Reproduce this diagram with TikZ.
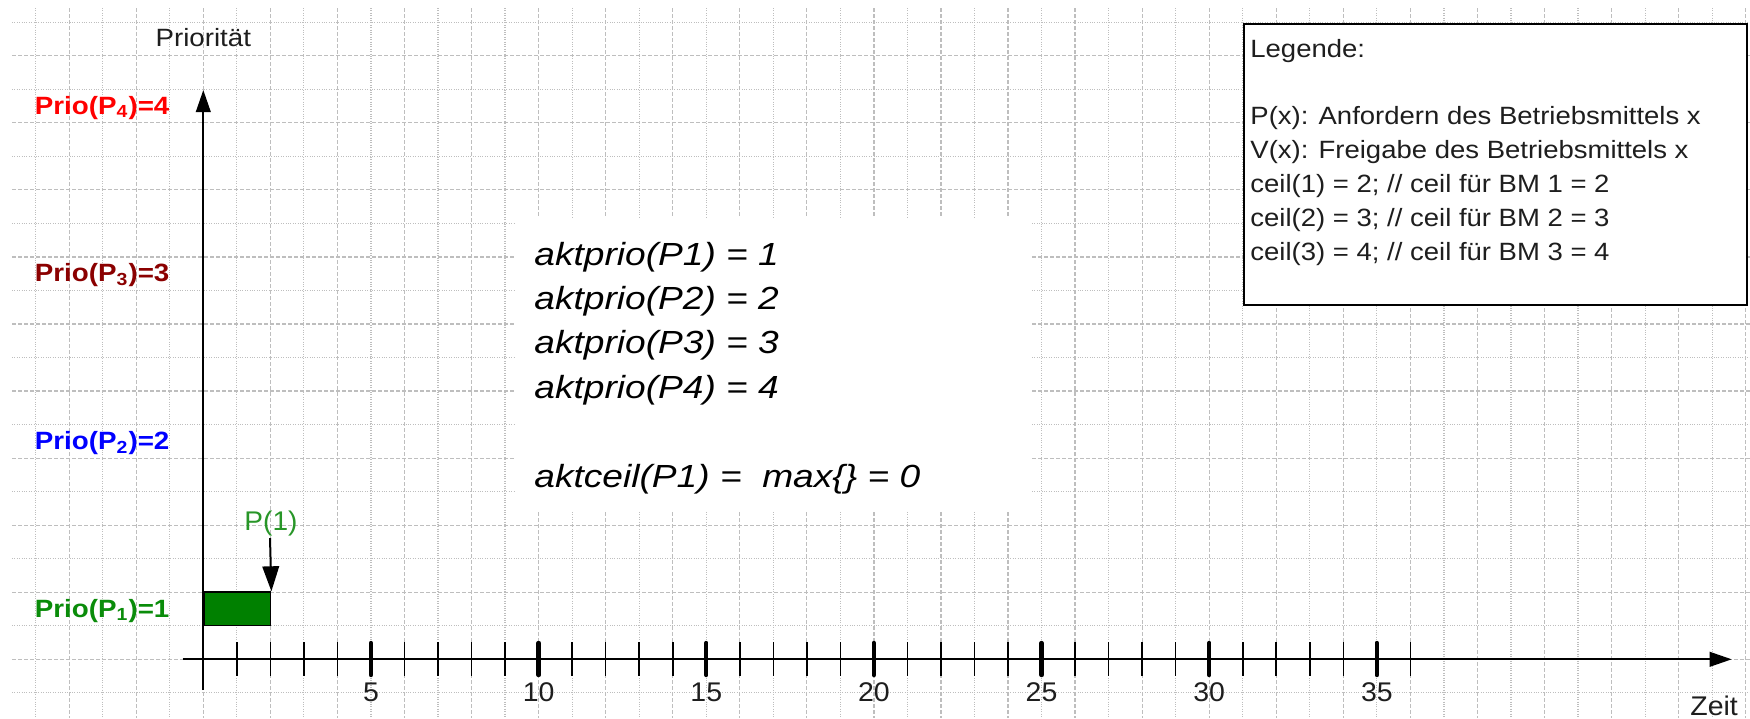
\documentclass[tikz,border=0pt]{standalone}
\usepackage{fontspec}
\setmainfont{Liberation Sans}
\usepackage{graphicx}
\usetikzlibrary{arrows.meta}
\definecolor{gridc}{RGB}{190,190,190}
\definecolor{pfour}{RGB}{255,0,0}
\definecolor{pthree}{RGB}{139,0,0}
\definecolor{ptwo}{RGB}{0,0,255}
\definecolor{pone}{RGB}{0,128,0}
\definecolor{ponetext}{RGB}{10,140,10}
\definecolor{ptxt}{RGB}{40,150,40}
\definecolor{txtc}{RGB}{30,30,30}
\newcommand{\hsc}[2]{\scalebox{#1}[1]{#2}}
\begin{document}
\begin{tikzpicture}[x=0.5pt,y=-0.5pt,
  gdash/.style={draw=gridc, line width=0.6pt, dash pattern=on 2pt off 1pt},
  gdot/.style={draw=gridc, line width=0.6pt, dash pattern=on 0.5pt off 0.7pt},
  axisline/.style={draw=black, line width=1pt, -{Triangle[length=11pt,width=7.3pt]}},
  minortick/.style={draw=black, line width=0.8pt},
  majortick/.style={draw=black, line width=2.2pt, line cap=round},
  ticklbl/.style={inner sep=0pt, anchor=base, text=txtc, font=\fontsize{13.5pt}{16pt}\selectfont},
  priolbl/.style={inner sep=0pt, anchor=base west, font=\bfseries\fontsize{12.5pt}{15pt}\selectfont},
  legtxt/.style={inner sep=0pt, anchor=base west, text=txtc, font=\fontsize{12.5pt}{15pt}\selectfont},
  bigtxt/.style={inner sep=0pt, anchor=base west, text=black, font=\itshape\fontsize{16pt}{19pt}\selectfont},
]
\useasboundingbox (0,0) rectangle (1750,718);
\fill[white] (0,0) rectangle (1750,718);
% grid
\foreach \k in {0,2,...,18} \draw[gdash] (12,{659.3-33.53*\k}) -- (1750,{659.3-33.53*\k});
\foreach \k in {-1,1,...,19} \draw[gdot] (12,{659.3-33.53*\k}) -- (1750,{659.3-33.53*\k});
\foreach \t in {-4,-2,...,46} \draw[gdash] ({203.3+33.53*\t},8) -- ({203.3+33.53*\t},718);
\foreach \t in {-5,-3,...,45} \draw[gdot] ({203.3+33.53*\t},8) -- ({203.3+33.53*\t},718);
% white text area
\fill[white] (515,218) rectangle (1032,512);
% legend box
\node[draw=black, line width=1pt, fill=white, inner sep=0pt, minimum width=251.5pt, minimum height=140.6pt, anchor=north west] (legend) at (1242.7,22.8) {};
\node[legtxt] (leg0) at (1250,57.3) {\hsc{1.10}{Legende:}};
\node[legtxt] (leg1) at (1250,124.7) {\hsc{1.10}{P(x): Anfordern des Betriebsmittels x}};
\node[legtxt] (leg2) at (1250,158.6) {\hsc{1.10}{V(x): Freigabe des Betriebsmittels x}};
\node[legtxt] (leg3) at (1250,192.5) {\hsc{1.10}{ceil(1) = 2; // ceil für BM 1 = 2}};
\node[legtxt] (leg4) at (1250,226.4) {\hsc{1.10}{ceil(2) = 3; // ceil für BM 2 = 3}};
\node[legtxt] (leg5) at (1250,260.3) {\hsc{1.10}{ceil(3) = 4; // ceil für BM 3 = 4}};
% big italic text
\node[bigtxt] (a1) at (534,265) {\hsc{1.16}{aktprio(P1) = 1}};
\node[bigtxt] (a2) at (534,309.4) {\hsc{1.16}{aktprio(P2) = 2}};
\node[bigtxt] (a3) at (534,353.8) {\hsc{1.16}{aktprio(P3) = 3}};
\node[bigtxt] (a4) at (534,398.2) {\hsc{1.16}{aktprio(P4) = 4}};
\node[bigtxt] (a5) at (534,487) {\hsc{1.16}{aktceil(P1) =\ \ max\{\} = 0}};
% axes
\coordinate (ybot) at (203.3,690);
\coordinate (ytop) at (203.3,90);
\coordinate (xleft) at (182.7,659.3);
\coordinate (xright) at (1731.7,659.3);
\draw[axisline] (ybot) -- (ytop);
\draw[axisline] (xleft) -- (xright);
\foreach \t in {1,...,36} \draw[minortick] ({203.3+33.53*\t},642) -- ({203.3+33.53*\t},676);
\foreach \t in {5,10,...,35} {
  \draw[majortick] ({203.3+33.53*\t},643) -- ({203.3+33.53*\t},675);
  \node[ticklbl] (tl\t) at ({203.3+33.53*\t},701.7) {\hsc{1.055}{\t}};
}
\node[ticklbl, anchor=base west] (zeit) at (1690,715) {\hsc{1.055}{Zeit}};
\node[ticklbl] (prio) at (203.3,46.7) {\fontsize{12.5pt}{15pt}\selectfont\hsc{1.107}{Priorität}};
% priority labels
\node[priolbl, text=pfour] (l4) at (34.5,114) {\hsc{1.11}{Prio(P\textsubscript{4})=4}};
\node[priolbl, text=pthree] (l3) at (34.5,281.7) {\hsc{1.11}{Prio(P\textsubscript{3})=3}};
\node[priolbl, text=ptwo] (l2) at (34.5,449.4) {\hsc{1.11}{Prio(P\textsubscript{2})=2}};
\node[priolbl, text=ponetext] (l1) at (34.5,617.1) {\hsc{1.11}{Prio(P\textsubscript{1})=1}};
% running box
\node[draw=black, line width=0.7pt, fill=pone, inner sep=0pt, minimum width=33.35pt, minimum height=16.65pt, anchor=south west] (run) at (203.3,626) {};
% P(1) request
\node[ticklbl, text=ptxt] (p1) at (271,530) {\hsc{1.04}{P(1)}};
\coordinate (p1a) at (270,538);
\draw[draw=black, line width=1pt, -{Triangle[length=12.5pt,width=8.3pt]}] (p1a) -- (run.north east);
\end{tikzpicture}
\end{document}
